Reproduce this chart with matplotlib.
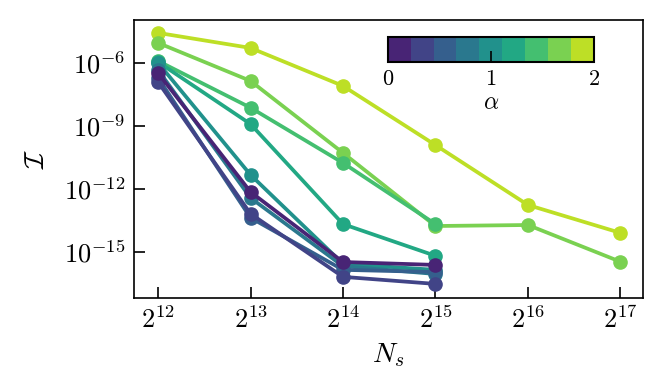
import numpy as np
import matplotlib
matplotlib.use("Agg")
import matplotlib.pyplot as plt
from matplotlib.colors import ListedColormap, Normalize
from matplotlib.cm import ScalarMappable
from matplotlib.ticker import FixedLocator, FixedFormatter, NullLocator

plt.rcParams['mathtext.fontset'] = 'cm'
plt.rcParams['font.family'] = ['DejaVu Serif']

# ---- data ----
Ns = [2**12, 2**13, 2**14, 2**15, 2**16, 2**17]
alphas = [0.0, 0.25, 0.5, 0.75, 1.0, 1.25, 1.5, 1.75, 2.0]
I_a000 = [3.2e-7, 7.1e-13, 3.3e-16, 2.4e-16]
I_a025 = [1.2e-7, 6.5e-14, 6.5e-17, 3.0e-17]
I_a050 = [1.9e-7, 4.2e-14, 1.4e-16, 1.1e-16]
I_a075 = [4.5e-7, 3.7e-13, 2.1e-16, 8.9e-17]
I_a100 = [9.8e-7, 4.6e-12, 2.7e-16, 1.4e-16]
I_a125 = [1.07e-6, 1.2e-9, 2.1e-14, 6.5e-16]
I_a150 = [1.2e-6, 7.2e-9, 1.7e-11, 2.1e-14]
I_a175 = [8.7e-6, 1.35e-7, 5.1e-11, 1.7e-14, 1.9e-14, 3.4e-16]
I_a200 = [2.6e-5, 5.0e-6, 7.8e-8, 1.2e-10, 1.7e-13, 8.0e-15]
series = [I_a000, I_a025, I_a050, I_a075, I_a100, I_a125, I_a150, I_a175, I_a200]

xtick_vals = [2**12, 2**13, 2**14, 2**15, 2**16, 2**17]
xtick_labels = [r'$2^{12}$', r'$2^{13}$', r'$2^{14}$', r'$2^{15}$', r'$2^{16}$', r'$2^{17}$']
ytick_vals = [1e-6, 1e-9, 1e-12, 1e-15]
ytick_labels = [r'$10^{-6}$', r'$10^{-9}$', r'$10^{-12}$', r'$10^{-15}$']
cbar_ticks = [0, 1, 2]
cbar_labels = [r'$0$', r'$1$', r'$2$']

# ---- plot ----
cmap = ListedColormap(plt.get_cmap('viridis')(np.linspace(0.1, 0.9, 9)))
norm = Normalize(0, 2)

fig = plt.figure(figsize=(6.64, 3.91), dpi=100)
ax = fig.add_axes([0.2018, 0.238, 0.766, 0.711])

for a, ys in reversed(list(zip(alphas, series))):
    ax.plot(Ns[:len(ys)], ys, '-o', color=cmap(norm(a)), lw=2.7, ms=9.5)

ax.set_xscale('log', base=2)
ax.set_yscale('log')
ax.set_xlim(2**11.74, 2**17.24)
ax.set_ylim(10**-17.19, 10**-3.97)
ax.xaxis.set_major_locator(FixedLocator(xtick_vals))
ax.xaxis.set_major_formatter(FixedFormatter(xtick_labels))
ax.yaxis.set_major_locator(FixedLocator(ytick_vals))
ax.yaxis.set_major_formatter(FixedFormatter(ytick_labels))
ax.xaxis.set_minor_locator(NullLocator())
ax.yaxis.set_minor_locator(NullLocator())
ax.tick_params(direction='in', length=8, width=1.2, labelsize=19, pad=6)
for s in ax.spines.values():
    s.set_linewidth(1.2)
ax.set_xlabel(r'$N_s$', fontsize=20, labelpad=6)
ax.set_ylabel(r'$\mathcal{I}$', fontsize=20, labelpad=10)

cax = fig.add_axes([0.584, 0.841, 0.310, 0.064])
cb = fig.colorbar(ScalarMappable(norm=norm, cmap=cmap), cax=cax, orientation='horizontal')
cb.set_ticks(cbar_ticks)
cb.set_ticklabels(cbar_labels)
cb.ax.tick_params(direction='in', length=8, width=1.2, labelsize=16, pad=4)
cb.outline.set_linewidth(1.5)
cb.set_label(r'$\alpha$', fontsize=17, labelpad=1)

fig.savefig('out.png', dpi=100)
